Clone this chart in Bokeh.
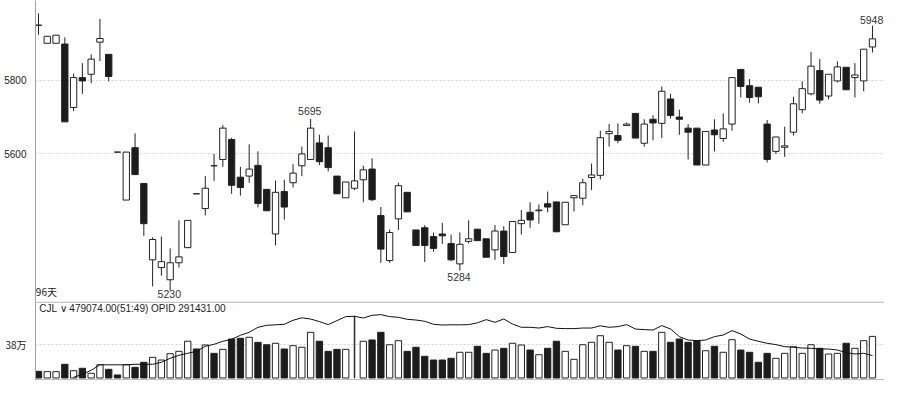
from bokeh.plotting import figure
from bokeh.models import Range1d, FixedTicker, Span, Label, ColumnDataSource
from bokeh.layouts import column
from bokeh.embed import file_html
from bokeh.resources import INLINE

# ---- data (96 daily candles) ----
open_ = [5949, 5900, 5900, 5898, 5726, 5807, 5816, 5903, 5870, 5605,
         5475, 5617, 5520, 5313, 5292, 5259, 5305, 5346, 5492, 5452,
         5568, 5585, 5639, 5537, 5540, 5569, 5504, 5383, 5498, 5522,
         5568, 5585, 5630, 5617, 5540, 5481, 5507, 5530, 5559, 5433,
         5311, 5424, 5496, 5394, 5400, 5376, 5383, 5357, 5302, 5363,
         5396, 5370, 5340, 5391, 5333, 5411, 5442, 5446, 5465, 5470,
         5408, 5481, 5480, 5536, 5542, 5655, 5650, 5677, 5710, 5629,
         5694, 5683, 5749, 5700, 5670, 5670, 5570, 5665, 5642, 5681,
         5829, 5785, 5781, 5681, 5607, 5618, 5659, 5720, 5763, 5826,
         5757, 5798, 5835, 5807, 5798, 5890]
close = [5949, 5919, 5922, 5687, 5807, 5798, 5857, 5913, 5810, 5605,
         5605, 5544, 5411, 5368, 5308, 5305, 5321, 5420, 5492, 5507,
         5568, 5670, 5515, 5509, 5559, 5466, 5446, 5496, 5456, 5548,
         5600, 5670, 5579, 5563, 5492, 5524, 5527, 5557, 5476, 5342,
         5387, 5514, 5443, 5352, 5352, 5344, 5378, 5313, 5355, 5370,
         5365, 5320, 5391, 5322, 5417, 5420, 5421, 5448, 5456, 5389,
         5469, 5487, 5522, 5543, 5644, 5661, 5637, 5681, 5643, 5681,
         5684, 5770, 5704, 5694, 5659, 5570, 5661, 5652, 5668, 5807,
         5783, 5753, 5755, 5585, 5646, 5622, 5736, 5777, 5838, 5746,
         5816, 5836, 5774, 5814, 5884, 5912]
high = [5981, 5919, 5922, 5916, 5818, 5846, 5870, 5966, 5870, 5605,
        5605, 5656, 5520, 5374, 5376, 5344, 5420, 5420, 5492, 5540,
        5600, 5678, 5644, 5565, 5626, 5607, 5504, 5528, 5530, 5572,
        5620, 5695, 5652, 5650, 5540, 5524, 5661, 5568, 5588, 5456,
        5395, 5522, 5496, 5394, 5407, 5387, 5413, 5381, 5387, 5420,
        5396, 5370, 5407, 5404, 5417, 5448, 5469, 5463, 5498, 5470,
        5469, 5487, 5533, 5574, 5663, 5681, 5683, 5685, 5710, 5694,
        5705, 5783, 5763, 5720, 5681, 5670, 5661, 5694, 5710, 5807,
        5831, 5803, 5781, 5692, 5646, 5674, 5755, 5797, 5877, 5857,
        5816, 5851, 5835, 5846, 5884, 5948]
low = [5923, 5900, 5900, 5687, 5716, 5763, 5792, 5852, 5797, 5605,
       5475, 5544, 5378, 5241, 5270, 5230, 5292, 5346, 5492, 5433,
       5527, 5565, 5492, 5487, 5522, 5455, 5446, 5352, 5422, 5509,
       5540, 5585, 5570, 5553, 5492, 5481, 5502, 5469, 5472, 5305,
       5305, 5394, 5443, 5352, 5307, 5335, 5356, 5309, 5284, 5357,
       5365, 5320, 5313, 5302, 5333, 5382, 5400, 5411, 5442, 5389,
       5408, 5444, 5461, 5502, 5531, 5620, 5629, 5677, 5643, 5620,
       5637, 5643, 5696, 5652, 5585, 5570, 5570, 5607, 5633, 5663,
       5753, 5739, 5737, 5577, 5600, 5592, 5650, 5710, 5759, 5736,
       5748, 5794, 5774, 5753, 5770, 5875]
volume = [77000, 73000, 73000, 158000, 84000, 112000, 54000, 153000, 100000, 35000,
          153000, 123000, 181000, 238000, 207000, 280000, 307000, 423000, 334000, 380000,
          284000, 330000, 449000, 457000, 469000, 411000, 383000, 400000, 334000, 372000,
          354000, 526000, 423000, 307000, 330000, 330000, 714000, 423000, 438000, 526000,
          383000, 430000, 307000, 354000, 250000, 207000, 207000, 227000, 296000, 296000,
          365000, 284000, 322000, 342000, 400000, 380000, 322000, 268000, 342000, 423000,
          307000, 215000, 383000, 411000, 487000, 411000, 322000, 372000, 365000, 307000,
          307000, 526000, 411000, 449000, 411000, 430000, 314000, 365000, 296000, 441000,
          322000, 296000, 181000, 284000, 227000, 284000, 360000, 284000, 383000, 342000,
          276000, 284000, 400000, 342000, 430000, 479074]
# open interest (OPID), starts at the 5th day
oi_first_day = 4
open_interest = [258900, 263400, 269400, 277600, 277600, 277600, 277600, 278400, 278400, 278400,
                 281400, 287400, 291900, 294900, 297900, 305400, 308400, 312900, 315900, 321900,
                 326400, 333900, 336900, 337600, 338400, 344400, 348100, 346300, 342400, 337900,
                 343900, 349900, 350400, 347800, 351900, 352900, 349900, 348900, 345900, 344800,
                 342900, 338400, 337300, 337600, 337600, 337900, 340600, 345400, 341400, 346300,
                 338800, 333900, 333900, 332800, 334900, 332400, 331900, 331900, 332800, 332800,
                 336100, 333900, 334900, 337900, 331300, 330400, 329800, 336400, 331300, 319900,
                 314800, 313900, 314800, 319900, 322300, 328900, 323800, 316300, 312900, 309900,
                 307900, 304900, 303900, 302800, 302400, 301300, 301300, 299800, 295900, 293800,
                 294900, 291431]
price_ticks = [5600, 5800]
vol_ticks = [380000]
vol_tick_labels = {380000: "38万"}
period_label = "96天"
header_text = "CJL \u2228  479074.00(51:49)   OPID 291431.00"
marks = [(31, 5695, "5695"), (15, 5230, "5230"), (48, 5284, "5284"), (95, 5948, "5948")]

# ---- derived columns ----
n = len(open_)
idx = list(range(n))
is_up = [c > o for o, c in zip(open_, close)]
WHITE, DARK = "#ffffff", "#1c1c1c"
src = ColumnDataSource(dict(
    x=idx, o=open_, c=close, h=high, l=low,
    btop=[max(o, c) for o, c in zip(open_, close)],
    bbot=[min(o, c) for o, c in zip(open_, close)],
    fill=[WHITE if u else DARK for u in is_up],
    vol=volume,
    vw=[0.06 if v > 650000 else 0.72 for v in volume],
))

AX = "#a0a0a0"
GRID = "#d4d4d4"
FONT = "Liberation Sans"
XR = Range1d(-0.34, 96.37)

# ---- price panel ----
p1 = figure(width=884, height=301, x_range=XR, y_range=Range1d(5200, 6016),
            output_backend="svg", toolbar_location=None, x_axis_location=None,
            min_border_left=35, min_border_right=0, min_border_top=0, min_border_bottom=0)
p1.outline_line_color = None
p1.background_fill_color = "white"
p1.xgrid.visible = False
p1.yaxis.ticker = FixedTicker(ticks=price_ticks)
p1.ygrid.ticker = FixedTicker(ticks=price_ticks)
p1.ygrid.grid_line_color = GRID
p1.ygrid.grid_line_dash = "2 2"
p1.yaxis.axis_line_color = AX
p1.yaxis.major_tick_line_color = None
p1.yaxis.minor_tick_line_color = None
p1.yaxis.major_label_text_font_size = "10px"
p1.yaxis.major_label_text_font = FONT
p1.yaxis.major_label_text_color = "#222"
p1.yaxis.major_label_standoff = 3

p1.segment(x0="x", y0="l", x1="x", y1="h", source=src, line_color="#222", line_width=1)
p1.vbar(x="x", top="btop", bottom="bbot", width=0.72, fill_color="fill",
        line_color="#222", line_width=1, source=src)

offsets = {"5695": 21, "5230": -10, "5284": -17, "5948": 14}
for i, val, txt in marks:
    p1.add_layout(Label(x=i - 0.1, y=val + offsets[txt], text=txt, text_align="center",
                        text_baseline="middle", text_font_size="10.5px", text_font=FONT,
                        text_color="#333"))
p1.add_layout(Label(x=-0.3, y=5206, text=period_label, text_align="left", text_baseline="bottom",
                    text_font_size="10px", text_font="Noto Sans CJK SC", text_color="#222"))

# ---- volume panel ----
p2 = figure(width=884, height=79, x_range=XR, y_range=Range1d(-28800, 880900),
            output_backend="svg", toolbar_location=None, x_axis_location=None,
            min_border_left=35, min_border_right=0, min_border_top=0, min_border_bottom=0)
p2.extra_y_ranges = {"oi": Range1d(254081, 372581)}
p2.outline_line_color = None
p2.xgrid.visible = False
p2.yaxis.ticker = FixedTicker(ticks=vol_ticks)
p2.yaxis.major_label_overrides = vol_tick_labels
p2.ygrid.ticker = FixedTicker(ticks=vol_ticks)
p2.ygrid.grid_line_color = GRID
p2.ygrid.grid_line_dash = "2 2"
p2.yaxis.axis_line_color = AX
p2.yaxis.major_tick_line_color = None
p2.yaxis.minor_tick_line_color = None
p2.yaxis.major_label_text_font_size = "10px"
p2.yaxis.major_label_text_font = "Noto Sans CJK SC"
p2.yaxis.major_label_text_color = "#222"
p2.yaxis.major_label_standoff = 3

p2.add_layout(Span(location=874000, dimension="width", line_color=AX, line_width=1))
p2.add_layout(Span(location=-20700, dimension="width", line_color=AX, line_width=1))
p2.vbar(x="x", top="vol", bottom=0, width="vw", fill_color="fill", line_color="#222",
        line_width=1, source=src)
p2.line(x=idx[oi_first_day:], y=open_interest, y_range_name="oi", line_color="#111", line_width=1)
p2.add_layout(Label(x=0.1, y=805000, text=header_text, text_align="left", text_baseline="middle",
                    text_font_size="10px", text_font=FONT, text_color="#222"))

layout = column(p1, p2, spacing=0)
open("out.html", "w").write(file_html(layout, INLINE))
